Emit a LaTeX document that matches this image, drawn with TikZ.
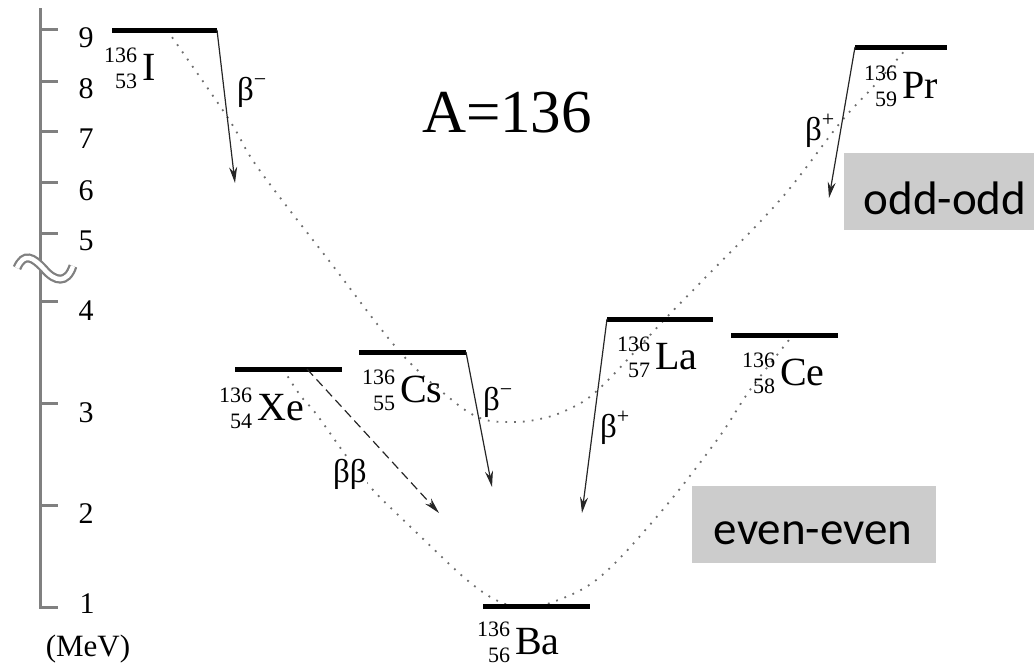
\documentclass[tikz,border=0pt]{standalone}
\usepackage{fontspec}
\setmainfont{Liberation Serif}
\newfontfamily\boxfont{Carlito}
\usetikzlibrary{arrows.meta}
\definecolor{AXIS}{RGB}{128,128,128}
\definecolor{DOTS}{RGB}{110,110,110}
\definecolor{BOX}{RGB}{204,204,204}
\newcommand{\nuc}[3]{\raisebox{-8pt}{\fontsize{22}{26}\selectfont\begin{tabular}[b]{@{}r@{}}#1\\#2\end{tabular}}\hspace{5pt}#3}
\newcommand{\bet}[1]{β\raisebox{14pt}{\fontsize{22}{22}\selectfont#1}}

\begin{document}
\begin{tikzpicture}[x=1pt,y=-1pt,font=\fontsize{40}{44}\selectfont]
    \tikzset{level/.style={line width=5pt,black},
      nuclide/.style={anchor=base west,inner sep=0pt},
      axis/.style={AXIS,line width=3pt},
      decayarr/.style={-{Stealth[length=16pt,width=8pt]},line width=1.2pt,black!85},
      parab/.style={DOTS,line width=1.8pt,dash pattern=on 1.8pt off 7pt},
      tag/.style={anchor=base west,inner sep=0pt,font=\fontsize{33}{36}\selectfont},
      graybox/.style={fill=BOX,draw=none}}
    \useasboundingbox (0,0) rectangle (1034,665);
    % energy axis
    \draw[axis] (40,8) -- (40,607) -- (58,607);
    \foreach \v/\y/\b in {9/29/47,8/81/98,7/131/148,6/182/200,5/233/250,4/301/320,3/403/422,2/505/523}{
      \draw[axis] (40,\y) -- (58,\y);
      \node[anchor=base,inner sep=0pt,font=\fontsize{30}{32}\selectfont] (t\v) at (86,\b) {\v};}
    \node[anchor=base,inner sep=0pt,font=\fontsize{30}{32}\selectfont] (t1) at (87,613) {1};
    \node[anchor=base,inner sep=0pt,font=\fontsize{31}{33}\selectfont] (unit) at (88,656) {(MeV)};
    \draw[AXIS,line width=9pt] (17,268) .. controls (24,252) and (33,257) .. (44,269) .. controls (55,282) and (67,284) .. (73,266);
    \draw[white,line width=4.5pt] (17,268) .. controls (24,252) and (33,257) .. (44,269) .. controls (55,282) and (67,284) .. (73,266);
    % mass parabolas
    \draw[parab] plot[smooth,tension=0.6] coordinates {(167,30) (228,118) (258,168) (330,262) (400,352) (452,400) (480,418) (505,422) (535,420) (567,410) (600,388) (665,319) (703,280) (780,200) (840,123) (873,87) (907,48)};
    \draw[parab] plot[smooth,tension=0.6] coordinates {(283,369) (300,395) (317,415) (347,457) (373,490) (417,533) (467,580) (500,602) (525,606) (553,602) (600,577) (660,513) (717,440) (750,390) (793,335)};
    % levels
    \coordinate (I-l) at (112,30);  \coordinate (I-r) at (217,30);
    \coordinate (Xe-l) at (235,369); \coordinate (Xe-r) at (342,369);
    \coordinate (Cs-l) at (359,352); \coordinate (Cs-r) at (466,352);
    \coordinate (Ba-l) at (483,606); \coordinate (Ba-r) at (590,606);
    \coordinate (La-l) at (607,319); \coordinate (La-r) at (713,319);
    \coordinate (Ce-l) at (731,335); \coordinate (Ce-r) at (838,335);
    \coordinate (Pr-l) at (855,47);  \coordinate (Pr-r) at (947,47);
    \foreach \n in {I,Xe,Cs,Ba,La,Ce,Pr}{\draw[level] (\n-l) -- (\n-r);}
    \node[nuclide] (nI) at (104,80) {\nuc{136}{53}{I}};
    \node[nuclide] (nXe) at (219,420) {\nuc{136}{54}{Xe}};
    \node[nuclide] (nCs) at (362,402) {\nuc{136}{55}{Cs}};
    \node[nuclide] (nBa) at (477,654) {\nuc{136}{56}{Ba}};
    \node[nuclide] (nLa) at (617,369) {\nuc{136}{57}{La}};
    \node[nuclide] (nCe) at (742,385) {\nuc{136}{58}{Ce}};
    \node[nuclide] (nPr) at (864,98) {\nuc{136}{59}{Pr}};
    \node[anchor=base,inner sep=0pt,font=\fontsize{61}{64}\selectfont] (mass) at (507,132) {A=136};
    % decays
    \coordinate (I-e) at (235,183);
    \coordinate (Cs-e) at (492,487);
    \coordinate (La-e) at (582,513);
    \coordinate (Pr-e) at (829,198);
    \coordinate (Xe-s) at (307,369);
    \coordinate (Xe-e) at (439,513);
    \draw[decayarr] (I-r) -- (I-e);
    \draw[decayarr] (Cs-r) -- (Cs-e);
    \draw[decayarr] (La-l) -- (La-e);
    \draw[decayarr] (Pr-l) -- (Pr-e);
    \draw[decayarr,dash pattern=on 9pt off 5pt] (Xe-s) -- (Xe-e);
    \node[tag] (bI) at (237,100) {\bet{−}};
    \node[tag] (bCs) at (483,410) {\bet{−}};
    \node[tag] (bLa) at (600,437) {\bet{+}};
    \node[tag] (bPr) at (805,140) {\bet{+}};
    \node[tag,fill=white] (bb) at (333,482) {ββ};
    % classes
    \fill[graybox] (844,153) rectangle (1034,230);
    \node[anchor=base,inner sep=0pt,font=\boxfont\fontsize{47}{50}\selectfont] (odd) at (945,214) {odd-odd};
    \fill[graybox] (692,486) rectangle (936,563);
    \node[anchor=base,inner sep=0pt,font=\boxfont\fontsize{47}{50}\selectfont] (even) at (813,544) {even-even};
\end{tikzpicture}
\end{document}
